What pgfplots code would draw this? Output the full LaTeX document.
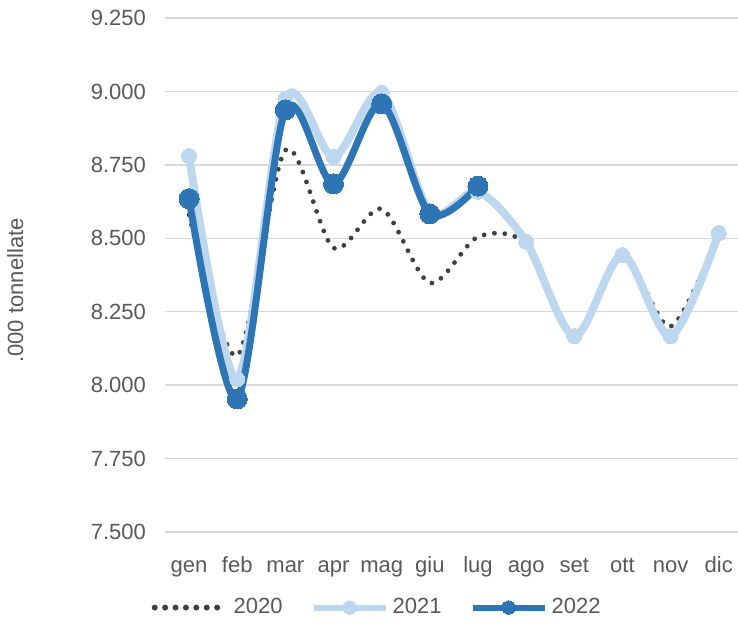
\documentclass[border=0pt]{standalone}
\usepackage{fontspec}
\setmainfont{Liberation Sans}
\usepackage{pgfplots}
\pgfplotsset{compat=1.18}
\definecolor{txt}{RGB}{89,89,89}
\definecolor{grid}{RGB}{217,217,217}
\definecolor{lblue}{RGB}{189,215,238}
\definecolor{dblue}{RGB}{46,117,182}
\definecolor{dgray}{RGB}{64,64,64}
\begin{document}
\begin{tikzpicture}
\useasboundingbox (0pt,0pt) rectangle (369pt,311pt);
\begin{axis}[
  at={(82.5pt,45pt)}, anchor=south west,
  scale only axis, width=286.5pt, height=257pt,
  xmin=-0.5, xmax=11.4, ymin=7500, ymax=9250,
  xtick={0,...,11},
  xticklabels={gen,feb,mar,apr,mag,giu,lug,ago,set,ott,nov,dic},
  ytick={7500,7750,...,9250},
  axis line style={draw=none},
  xtick style={draw=none}, ytick style={draw=none},
  xmajorgrids=false, ymajorgrids=true,
  y grid style={grid, line width=0.75pt},
  tick label style={font=\fontsize{11}{13}\selectfont, text=txt},
  yticklabel style={xshift=-6pt},
  xticklabel style={anchor=base, yshift=-20pt},
  yticklabel={\pgfmathprintnumber[fixed,1000 sep={.},assume math mode=true]{\tick}},
  ylabel={.000 tonnellate},
  ylabel style={font=\fontsize{11}{13}\selectfont, text=txt, at={(axis description cs:-0.235,0.47)}},
  legend style={draw=none, at={(axis description cs:0.372,-0.147)}, anchor=center,
    legend columns=3, font=\fontsize{11}{13}\selectfont, text=txt,
    /tikz/every even column/.append style={column sep=12pt}},
  legend image code/.code={\draw[#1,mark=none,line width=3pt] (0pt,0pt) -- (36pt,0pt); \path[#1,draw=none,mark size=3.3pt] plot coordinates {(18pt,0pt)};},
]
\addplot[dgray, line width=2.4pt, line cap=round, dash pattern=on 0pt off 5.2pt, smooth, tension=0.5, mark=none] coordinates {
 (0,8580)(1,8100)(2,8800)(3,8467)(4,8600)(5,8348)(6,8505)(7,8480)(8,8170)(9,8440)(10,8200)(11,8520)
};
\addplot[lblue, line width=4pt, smooth, tension=0.5, mark=*, mark size=3.75pt, mark options={fill=lblue, draw=lblue, line width=0pt, solid}] coordinates {
 (0,8780)(1,8020)(2,8975)(3,8777)(4,8995)(5,8590)(6,8658)(7,8488)(8,8167)(9,8443)(10,8167)(11,8518)
};
\addplot[dblue, line width=3.5pt, smooth, tension=0.5, mark=*, mark size=5pt, mark options={fill=dblue, draw=dblue, line width=0pt, solid}] coordinates {
 (0,8635)(1,7953)(2,8937)(3,8685)(4,8958)(5,8583)(6,8678)
};
\legend{2020,2021,2022}
\end{axis}
\end{tikzpicture}
\end{document}
